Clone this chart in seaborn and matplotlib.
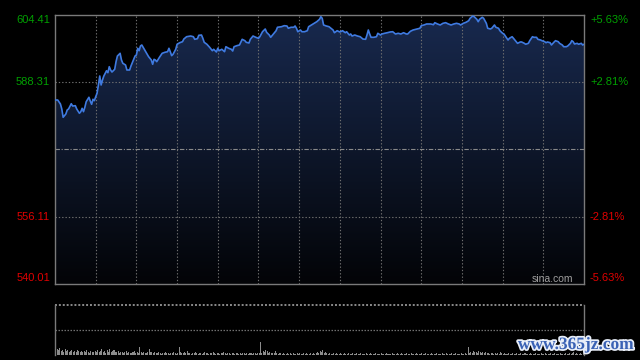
import numpy as np
import pandas as pd
import matplotlib
matplotlib.use("Agg")
import matplotlib.pyplot as plt
import matplotlib.patheffects as pe
from matplotlib.patches import Polygon
import seaborn as sns

# ---------------- data ----------------
minutes = [0, 2, 4, 5, 6, 8, 9, 10, 12, 13, 15, 16, 18, 19, 20, 21, 22, 23, 25, 26,
           27, 28, 29, 30, 31, 32, 33, 34, 35, 36, 37, 38, 39, 40, 41, 42, 44, 45, 46, 48,
           49, 50, 52, 53, 55, 56, 58, 59, 60, 61, 62, 63, 64, 65, 67, 69, 71, 72, 73, 74,
           75, 77, 79, 81, 83, 84, 85, 86, 87, 89, 90, 92, 94, 95, 97, 100, 102, 103, 105, 106,
           108, 109, 110, 112, 114, 116, 117, 119, 120, 121, 123, 125, 126, 128, 130, 131, 132, 134, 136, 138,
           140, 141, 143, 144, 146, 148, 150, 151, 153, 155, 156, 158, 159, 161, 163, 164, 167, 169, 171, 172,
           174, 176, 177, 178, 179, 181, 182, 184, 186, 187, 189, 191, 193, 195, 196, 197, 198, 200, 202, 205,
           206, 208, 210, 212, 214, 215, 217, 218, 219, 221, 223, 225, 227, 229, 230, 231, 232, 233, 235, 237,
           238, 240, 241, 243, 245, 247, 249, 251, 253, 255, 257, 259, 260, 262, 264, 267, 269, 270, 272, 274,
           277, 279, 280, 282, 284, 286, 288, 290, 292, 294, 296, 298, 299, 301, 303, 305, 306, 308, 309, 311,
           312, 313, 315, 316, 318, 319, 321, 322, 324, 325, 327, 328, 330, 331, 332, 334, 335, 337, 338, 340,
           341, 343, 344, 346, 347, 349, 350, 352, 353, 355, 356, 358, 359, 361, 362, 363, 365, 366, 368, 369,
           371, 372, 374, 375, 377, 378, 380, 381, 382, 383, 385, 386, 388, 389, 390]
prices = [584.06, 584.06, 583.10, 581.91, 579.92, 580.71, 581.67, 581.91, 583.17, 582.62,
          582.70, 581.91, 580.88, 581.26, 582.07, 581.26, 582.31, 583.65, 584.71, 583.82,
          583.03, 584.23, 583.89, 584.85, 585.66, 587.65, 589.81, 587.65, 588.85, 589.81,
          590.45, 591.07, 590.60, 592.03, 591.24, 590.76, 591.41, 593.23, 594.59, 595.24,
          593.64, 592.85, 592.44, 591.24, 591.24, 592.20, 593.80, 594.59, 594.83, 596.44,
          595.86, 596.99, 597.23, 596.68, 595.62, 594.43, 593.64, 592.61, 593.80, 593.64,
          593.23, 594.28, 595.24, 595.48, 595.62, 596.44, 595.62, 594.67, 595.00, 596.20,
          597.40, 597.78, 598.02, 598.66, 599.21, 599.38, 599.21, 598.59, 598.74, 599.55,
          599.62, 598.83, 597.87, 597.40, 596.68, 595.86, 596.20, 595.55, 596.44, 595.86,
          596.20, 595.62, 596.82, 596.44, 596.20, 595.79, 596.82, 597.06, 597.23, 598.59,
          598.26, 597.87, 597.71, 598.59, 599.38, 599.07, 598.83, 599.21, 600.41, 601.06,
          600.27, 599.62, 599.07, 599.86, 600.65, 601.47, 601.61, 601.85, 601.78, 601.23,
          601.47, 601.47, 601.78, 601.23, 600.41, 600.82, 600.41, 600.41, 600.65, 601.61,
          602.02, 602.42, 602.81, 603.38, 604.00, 603.62, 602.02, 601.78, 601.61, 600.82,
          600.17, 600.65, 600.34, 600.65, 600.17, 600.41, 599.62, 599.86, 599.38, 599.62,
          599.38, 599.21, 598.66, 598.59, 599.62, 600.82, 599.86, 599.07, 599.07, 599.21,
          600.03, 599.62, 599.86, 600.03, 600.17, 600.34, 600.41, 599.86, 600.03, 599.86,
          600.17, 599.86, 599.86, 600.51, 600.82, 601.06, 601.23, 601.85, 602.02, 602.26,
          602.26, 602.09, 602.57, 602.26, 602.02, 602.42, 602.57, 602.26, 602.02, 602.26,
          602.42, 602.26, 602.02, 602.42, 602.66, 603.05, 603.62, 604.17, 604.00, 603.38,
          602.81, 603.38, 603.86, 603.62, 602.42, 601.23, 601.06, 601.23, 602.02, 601.47,
          601.23, 600.65, 600.03, 599.86, 599.38, 598.42, 598.83, 599.21, 598.83, 598.02,
          597.63, 597.95, 597.95, 597.63, 597.40, 597.63, 598.26, 599.21, 599.07, 599.07,
          598.59, 598.42, 598.26, 598.02, 597.78, 597.95, 597.78, 597.23, 597.95, 598.26,
          598.02, 597.63, 597.23, 596.82, 596.82, 596.99, 597.63, 598.26, 598.02, 597.47,
          597.63, 597.40, 597.63, 597.23, 597.40]

volume = [21, 6, 5, 7, 4, 5, 3, 6, 4, 5,
          3, 4, 5, 3, 4, 3, 5, 4, 3, 4,
          3, 4, 3, 5, 3, 2, 4, 3, 3, 4,
          3, 5, 3, 4, 6, 3, 4, 2, 5, 3,
          6, 3, 4, 5, 3, 3, 4, 2, 3, 3,
          2, 3, 4, 2, 3, 2, 2, 3, 4, 2,
          3, 2, 8, 3, 2, 3, 2, 2, 3, 6,
          3, 3, 2, 3, 2, 2, 3, 2, 1, 2,
          2, 3, 2, 2, 1, 2, 2, 3, 2, 1,
          2, 8, 3, 2, 2, 3, 2, 4, 2, 2,
          1, 2, 2, 3, 2, 1, 2, 2, 1, 2,
          3, 2, 2, 1, 2, 2, 3, 2, 1, 2,
          2, 1, 2, 2, 3, 2, 1, 2, 2, 1,
          2, 2, 1, 2, 2, 1, 2, 1, 2, 2,
          1, 2, 1, 2, 2, 1, 2, 2, 1, 2,
          2, 13, 2, 4, 3, 5, 4, 2, 3, 2,
          2, 2, 4, 2, 1, 2, 2, 1, 2, 1,
          1, 2, 1, 2, 1, 2, 1, 1, 2, 1,
          2, 1, 1, 2, 1, 2, 1, 1, 2, 1,
          2, 1, 2, 3, 2, 4, 3, 5, 2, 3,
          2, 1, 2, 1, 1, 2, 1, 2, 1, 1,
          2, 1, 1, 2, 1, 1, 2, 1, 1, 2,
          1, 1, 2, 1, 1, 2, 1, 1, 1, 2,
          1, 1, 2, 1, 1, 1, 2, 1, 1, 1,
          2, 1, 1, 1, 2, 1, 1, 1, 2, 1,
          1, 1, 2, 1, 1, 2, 1, 1, 1, 2,
          1, 1, 2, 1, 1, 1, 2, 1, 1, 1,
          2, 1, 1, 2, 1, 1, 1, 2, 1, 1,
          1, 2, 1, 1, 1, 2, 1, 1, 2, 1,
          1, 1, 2, 1, 1, 2, 1, 1, 1, 2,
          1, 1, 2, 1, 8, 2, 3, 2, 4, 3,
          3, 2, 4, 3, 2, 3, 2, 3, 2, 2,
          1, 2, 2, 1, 2, 1, 2, 1, 3, 2,
          1, 2, 1, 1, 2, 1, 1, 2, 1, 1,
          2, 1, 1, 2, 1, 1, 2, 1, 1, 1,
          2, 1, 1, 1, 2, 1, 1, 1, 2, 1,
          1, 2, 1, 1, 1, 2, 1, 1, 2, 1,
          1, 1, 2, 1, 1, 1, 2, 1, 1, 2,
          1, 2, 3, 1, 2, 1, 1, 2, 1, 2]

left_labels = ["604.41", "588.31", "556.11", "540.01"]
left_values = [604.41, 588.31, 556.11, 540.01]
right_labels = ["+5.63%", "+2.81%", "-2.81%", "-5.63%"]
label_colors = ["#00a000", "#00a000", "#e00000", "#e00000"]
prev_close = 572.21
y_low, y_high = 540.01, 604.41
n_minutes = 390
grid_minutes = [30, 60, 90, 120, 150, 180, 210, 240, 270, 300, 330, 360]

# ---------------- style ----------------
sns.set_style("dark")
plt.rcParams["font.family"] = ["Liberation Sans", "DejaVu Sans"]

fig = plt.figure(figsize=(6.4, 3.6), dpi=100, facecolor="black")
W, H = 640, 360
ax = fig.add_axes([55 / W, 1 - 284 / H, 529 / W, 269 / H])
axv = fig.add_axes([55 / W, 1 - 355 / H, 529 / W, 50 / H])

for a in (ax, axv):
    a.set_facecolor("black")
    a.set_xticks([])
    a.set_yticks([])
    a.grid(False)
    a.set_xlim(0, n_minutes)

ax.set_ylim(y_low, y_high)

df = pd.DataFrame({"minute": minutes, "price": prices})

# gradient fill under the line
top_rgb = np.array([24, 41, 78]) / 255.0
bot_rgb = np.array([3, 4, 7]) / 255.0
t = np.linspace(0, 1, 256)[:, None]
grad = (bot_rgb[None, :] * (1 - t) + top_rgb[None, :] * t)[:, None, :]
img = ax.imshow(grad, extent=[0, n_minutes, y_low, y_high], origin="lower",
                aspect="auto", zorder=1, interpolation="bilinear")
verts = np.vstack([[minutes[0], y_low],
                   np.column_stack([minutes, prices]),
                   [minutes[-1], y_low]])
poly = Polygon(verts, closed=True, facecolor="none", edgecolor="none",
               transform=ax.transData)
ax.add_patch(poly)
img.set_clip_path(poly)
ax.set_xlim(0, n_minutes)
ax.set_ylim(y_low, y_high)

# grid
gcol = "#707070"
for v in (588.31, 556.11):
    ax.axhline(v, color=gcol, lw=0.8, ls=(0, (1.2, 1.8)), zorder=2)
ax.axhline(prev_close, color="#8a8a8a", lw=0.8, ls=(0, (4, 1.5, 1, 1.5)), zorder=2)
for m in grid_minutes:
    ax.axvline(m, color=gcol, lw=0.8, ls=(0, (1.2, 1.8)), zorder=2)

sns.lineplot(data=df, x="minute", y="price", ax=ax, color="#3f7ae0",
             linewidth=1.2, zorder=3, legend=False)
ax.set_xlabel("")
ax.set_ylabel("")

for s in ax.spines.values():
    s.set_color("#7a7a7a")
    s.set_linewidth(1.0)
    s.set_visible(True)

# labels
offsets = [-3.6, 0, 0, 4.3]
for lab, val, col, rl, dy in zip(left_labels, left_values, label_colors, right_labels, offsets):
    ax.annotate(lab, xy=(0, val), xycoords=("axes fraction", "data"),
                xytext=(-3.5, dy), textcoords="offset points",
                ha="right", va="center", color=col, fontsize=8)
    ax.annotate(rl, xy=(1, val), xycoords=("axes fraction", "data"),
                xytext=(4.3, dy), textcoords="offset points",
                ha="left", va="center", color=col, fontsize=8)

ax.text(0.979, 0.02, "sina.com", transform=ax.transAxes, ha="right", va="center",
        color="#a0a0a0", fontsize=7.5, zorder=4)

# volume
axv.set_ylim(0, 50)
axv.bar(np.arange(n_minutes) + 0.5, volume, width=0.75, color="#8c8c8c", linewidth=0)
axv.axhline(25, color=gcol, lw=0.9, ls=(0, (1.2, 1.2)))
axv.axhline(50, color="#8a8a8a", lw=1.4, ls=(0, (1.0, 1.0)), clip_on=False)
for side, s in axv.spines.items():
    s.set_color("#7a7a7a")
    s.set_linewidth(1.0)
    s.set_visible(side in ("left", "right"))

# watermark
fig.text(576 / W, 1 - 345 / H, "www.365jz.com", ha="center", va="center",
         color="#3a62b5", fontsize=12.5, fontweight="bold",
         family=["Liberation Serif", "DejaVu Serif"],
         path_effects=[pe.withStroke(linewidth=2.5, foreground="#e8eef8")])

fig.savefig("out.png", dpi=100, facecolor="black")
